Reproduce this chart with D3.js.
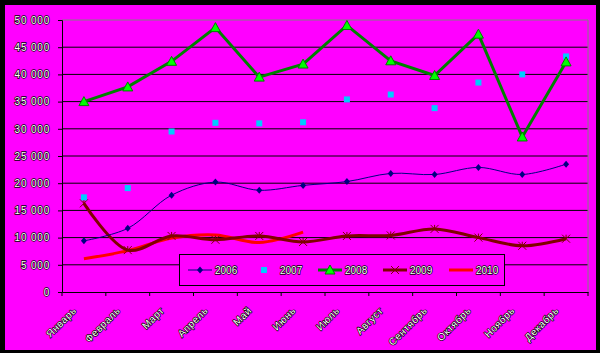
<!DOCTYPE html>
<html>
<head>
<meta charset="utf-8">
<script src="https://cdn.jsdelivr.net/npm/d3@7"></script>
<style>
  body { margin: 0; background: #000; }
  svg text { font-family: Arial, "Liberation Sans", sans-serif; font-size: 10px; fill: #fff; stroke: #000; stroke-width: 1.4px; paint-order: stroke; }
  .y-axis text { letter-spacing: 0.8px; }
  .x-axis text { letter-spacing: 0.6px; }
</style>
</head>
<body>
<div id="chart"></div>
<script>
// Data
const months = ["Январь", "Февраль", "Март", "Апрель", "Май", "Июнь",
  "Июль", "Август", "Сентябрь", "Октябрь", "Ноябрь", "Декабрь"];
const s2006 = [9400, 11700, 17800, 20200, 18700, 19600, 20300, 21800, 21600, 22900, 21600, 23500];
const s2007 = [17400, 19100, 29500, 31100, 31000, 31200, 35400, 36300, 33800, 38500, 40000, 43300];
const s2008 = [35000, 37700, 42400, 48600, 39500, 41900, 49000, 42500, 39800, 47400, 28500, 42300];
const s2009 = [16300, 7700, 10300, 9600, 10300, 9200, 10300, 10400, 11600, 10000, 8500, 9800];
const s2010 = [6100, 7600, 9900, 10500, 9100, 11000];
const yTicks = [0, 5000, 10000, 15000, 20000, 25000, 30000, 35000, 40000, 45000, 50000];

const width = 600, height = 353;
const margin = { top: 20, right: 12, bottom: 61, left: 62 };

const svg = d3.select("#chart").append("svg")
  .attr("width", width)
  .attr("height", height);

// frame
svg.append("rect").attr("width", width).attr("height", height).attr("fill", "#000");
svg.append("rect").attr("x", 5).attr("y", 5).attr("width", 591).attr("height", 345).attr("fill", "#ff00ff");

const x = d3.scaleBand().domain(months).range([margin.left, width - margin.right]);
const y = d3.scaleLinear().domain([0, 50000]).range([height - margin.bottom, margin.top]);
const cx = d => x(d) + x.bandwidth() / 2;
const fmt = v => d3.format(",")(v).replace(/,/g, " ");

// gridlines
svg.append("g").selectAll("line")
  .data(yTicks.slice(1, -1))
  .join("line")
    .attr("x1", margin.left).attr("x2", width - margin.right)
    .attr("y1", d => y(d)).attr("y2", d => y(d))
    .attr("stroke", "#000");

// plot border (top, right)
svg.append("path")
  .attr("d", `M${margin.left},${y(50000)}H${width - margin.right}V${y(0)}`)
  .attr("fill", "none").attr("stroke", "#808080");

// axes
const yAxis = svg.append("g")
  .attr("class", "y-axis")
  .attr("transform", `translate(${margin.left},0)`)
  .call(d3.axisLeft(y).tickValues(yTicks).tickFormat(fmt).tickSize(4).tickPadding(8));
yAxis.select(".domain").attr("stroke", "#000");
yAxis.selectAll(".tick line").attr("stroke", "#000");

const xAxis = svg.append("g")
  .attr("class", "x-axis")
  .attr("transform", `translate(0,${y(0)})`)
  .call(d3.axisBottom(x).tickSizeInner(0).tickSizeOuter(0));
xAxis.select(".domain").attr("stroke", "#000");
xAxis.selectAll(".tick line").remove();
xAxis.selectAll(".tick text")
  .attr("text-anchor", "end")
  .attr("dy", "0.3em")
  .attr("transform", "translate(-11,15) rotate(-45)");
// tick marks on band boundaries
svg.append("g").selectAll("line")
  .data(months.concat(["end"]))
  .join("line")
    .attr("x1", (d, i) => margin.left + i * x.bandwidth())
    .attr("x2", (d, i) => margin.left + i * x.bandwidth())
    .attr("y1", y(0)).attr("y2", y(0) + 4)
    .attr("stroke", "#000");

const smooth = d3.line().x((d, i) => cx(months[i])).y(d => y(d)).curve(d3.curveCatmullRom.alpha(0.5));
const straight = d3.line().x((d, i) => cx(months[i])).y(d => y(d));

// 2010
svg.append("path").datum(s2010).attr("d", smooth)
  .attr("fill", "none").attr("stroke", "#ff0000").attr("stroke-width", 3);

// 2009
svg.append("path").datum(s2009).attr("d", smooth)
  .attr("fill", "none").attr("stroke", "#800000").attr("stroke-width", 3);
svg.append("g").selectAll("path")
  .data(s2009)
  .join("path")
    .attr("d", (d, i) => {
      const px = cx(months[i]), py = y(d);
      return `M${px - 4},${py - 4}L${px + 4},${py + 4}M${px - 4},${py + 4}L${px + 4},${py - 4}M${px},${py - 4}V${py}`;
    })
    .attr("stroke", "#800000").attr("stroke-width", 1);

// 2006
svg.append("path").datum(s2006).attr("d", smooth)
  .attr("fill", "none").attr("stroke", "#000080").attr("stroke-width", 1);
svg.append("g").selectAll("path")
  .data(s2006)
  .join("path")
    .attr("d", (d, i) => {
      const px = cx(months[i]), py = y(d);
      return `M${px},${py - 3.5}L${px + 3},${py}L${px},${py + 3.5}L${px - 3},${py}Z`;
    })
    .attr("fill", "#000080");

// 2007 squares
svg.append("g").selectAll("rect")
  .data(s2007)
  .join("rect")
    .attr("x", (d, i) => cx(months[i]) - 3)
    .attr("y", d => y(d) - 3)
    .attr("width", 6).attr("height", 6)
    .attr("fill", "#00ccff");

// 2008
svg.append("path").datum(s2008).attr("d", straight)
  .attr("fill", "none").attr("stroke", "#008000").attr("stroke-width", 3);
svg.append("g").selectAll("path")
  .data(s2008)
  .join("path")
    .attr("d", (d, i) => {
      const px = cx(months[i]), py = y(d);
      return `M${px},${py - 5}L${px + 5},${py + 4}L${px - 5},${py + 4}Z`;
    })
    .attr("fill", "#00ff00").attr("stroke", "#008000").attr("stroke-width", 1);

// legend
const legend = svg.append("g");
legend.append("rect")
  .attr("x", 179.5).attr("y", 254.5).attr("width", 325).attr("height", 31)
  .attr("fill", "#ff00ff").attr("stroke", "#000");
const ly = 270;
const items = [
  { name: "2006", x: 188 },
  { name: "2007", x: 253 },
  { name: "2008", x: 318 },
  { name: "2009", x: 383 },
  { name: "2010", x: 449 }
];
items.forEach(it => {
  const g = legend.append("g");
  if (it.name === "2006") {
    g.append("line").attr("x1", it.x).attr("x2", it.x + 24).attr("y1", ly).attr("y2", ly).attr("stroke", "#000080");
    g.append("path").attr("d", `M${it.x + 12},${ly - 3.5}L${it.x + 15},${ly}L${it.x + 12},${ly + 3.5}L${it.x + 9},${ly}Z`).attr("fill", "#000080");
  } else if (it.name === "2007") {
    g.append("rect").attr("x", it.x + 8).attr("y", ly - 3).attr("width", 6).attr("height", 6).attr("fill", "#00ccff");
  } else if (it.name === "2008") {
    g.append("line").attr("x1", it.x).attr("x2", it.x + 24).attr("y1", ly).attr("y2", ly).attr("stroke", "#008000").attr("stroke-width", 3);
    g.append("path").attr("d", `M${it.x + 12},${ly - 5}L${it.x + 17},${ly + 4}L${it.x + 7},${ly + 4}Z`).attr("fill", "#00ff00").attr("stroke", "#008000");
  } else if (it.name === "2009") {
    g.append("line").attr("x1", it.x).attr("x2", it.x + 24).attr("y1", ly).attr("y2", ly).attr("stroke", "#800000").attr("stroke-width", 3);
    const px = it.x + 12;
    g.append("path").attr("d", `M${px - 4},${ly - 4}L${px + 4},${ly + 4}M${px - 4},${ly + 4}L${px + 4},${ly - 4}`).attr("stroke", "#800000");
  } else {
    g.append("line").attr("x1", it.x).attr("x2", it.x + 24).attr("y1", ly).attr("y2", ly).attr("stroke", "#ff0000").attr("stroke-width", 3);
  }
  g.append("text").attr("x", it.x + 27).attr("y", ly).attr("dy", "0.35em").text(it.name);
});
</script>
</body>
</html>
